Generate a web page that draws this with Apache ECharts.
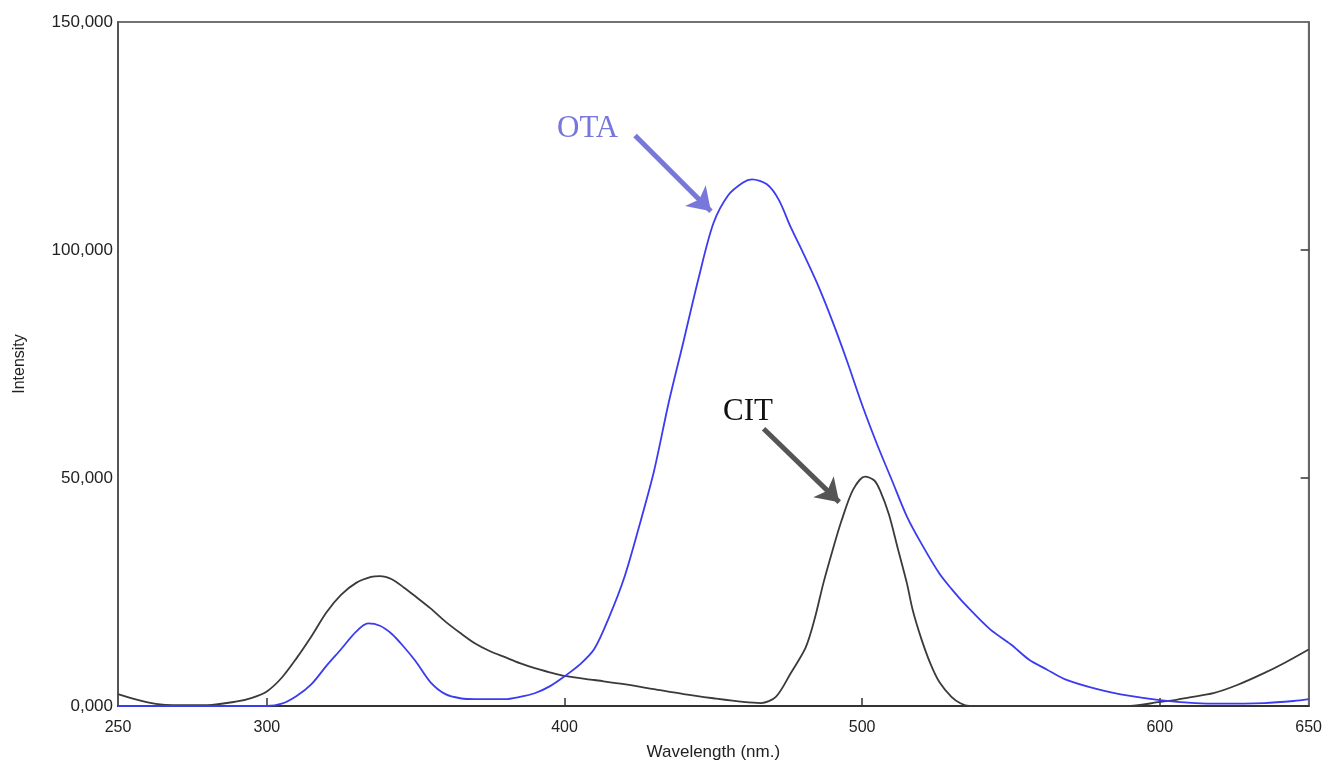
<!DOCTYPE html>
<html>
<head>
<meta charset="utf-8">
<script src="https://cdn.jsdelivr.net/npm/echarts@6/dist/echarts.min.js"></script>
<style>
  html, body { margin: 0; padding: 0; background: #fff; }
  #chart { width: 1325px; height: 766px; }
</style>
</head>
<body>
<div id="chart"></div>
<script>
// OTA emission spectrum (blue)
var otaWl  = [250, 270, 290, 300, 305, 310, 315, 320, 325, 330, 334, 338, 342, 346, 350, 355, 360, 365, 370, 380, 385, 390, 395, 400, 405, 410, 415, 420, 425, 430, 435, 440, 445, 450, 455, 460, 463, 468, 472, 476, 480, 485, 490, 495, 500, 505, 510, 515, 520, 526, 530, 535, 543, 550, 556, 562, 568, 579, 590, 600, 612, 620, 635, 645, 650];
var otaVal = [0, 0, 0, 0, 500, 2200, 4800, 8800, 12500, 16300, 18100, 17600, 15800, 13000, 9800, 5200, 2600, 1700, 1500, 1500, 2000, 2800, 4300, 6500, 9000, 12500, 19500, 28000, 39200, 51300, 66500, 80000, 93700, 105800, 112000, 114800, 115500, 114400, 111000, 105000, 99600, 92500, 84400, 75500, 66000, 57400, 49500, 41600, 35500, 29000, 25700, 22000, 16800, 13500, 10200, 8000, 5900, 3700, 2200, 1300, 650, 500, 650, 1100, 1500];

// CIT emission spectrum (black)
var citWl  = [250, 255, 260, 265, 270, 280, 290, 295, 300, 305, 310, 315, 320, 325, 330, 335, 338, 342, 346, 350, 355, 360, 365, 370, 375, 380, 385, 390, 395, 400, 410, 420, 430, 440, 450, 460, 466, 471, 476, 481, 484, 487, 490, 493, 497, 501, 504, 506, 509, 512, 515, 517, 520, 523, 526, 530, 533, 536, 540, 590, 600, 605, 610, 618, 626, 635, 642, 650];
var citVal = [2600, 1600, 800, 300, 200, 200, 1000, 1800, 3200, 6200, 10500, 15300, 20500, 24400, 27000, 28300, 28500, 27800, 26000, 24000, 21400, 18500, 16000, 13700, 12000, 10700, 9400, 8300, 7400, 6600, 5700, 4800, 3700, 2600, 1700, 900, 650, 2000, 7200, 12800, 19000, 27000, 34000, 40500, 47500, 50300, 49500, 47300, 42000, 34500, 27000, 21000, 14500, 9200, 5200, 2000, 600, 0, 0, 0, 900, 1300, 1900, 2800, 4600, 7200, 9500, 12400];

var xLabels = [250, 300, 400, 500, 600, 650];
var xTicks = [300, 400, 500, 600];
var yTicks = [50000, 100000];

function pairs(xs, ys) {
  return xs.map(function (x, i) { return [x, ys[i]]; });
}

var myChart = echarts.init(document.getElementById('chart'));

var option = {
  animation: false,
  backgroundColor: '#fff',
  grid: {
    left: 118, right: 13, top: 22, bottom: 54,
    show: true,
    borderColor: '#444',
    borderWidth: 1.5
  },
  xAxis: {
    type: 'value',
    min: 250, max: 650,
    name: 'Wavelength (nm.)',
    nameLocation: 'middle',
    nameGap: 38,
    nameTextStyle: { fontFamily: 'Liberation Sans', fontSize: 17, color: '#222' },
    axisLine: { show: true, lineStyle: { color: '#333', width: 2 } },
    axisTick: { show: true, inside: true, length: 8, customValues: xTicks, lineStyle: { color: '#333', width: 1.5 } },
    axisLabel: { customValues: xLabels, margin: 14, fontFamily: 'Liberation Sans', fontSize: 16, color: '#222' },
    splitLine: { show: false }
  },
  yAxis: [{
    type: 'value',
    min: 0, max: 150000, interval: 50000,
    name: 'Intensity',
    nameLocation: 'middle',
    nameGap: 90,
    nameTextStyle: { fontFamily: 'Liberation Sans', fontSize: 16, color: '#222' },
    axisLine: { show: true, lineStyle: { color: '#555', width: 2 } },
    axisTick: { show: false },
    axisLabel: {
      margin: 5,
      fontFamily: 'Liberation Sans', fontSize: 17, color: '#222',
      formatter: function (v) { return v === 0 ? '0,000' : v.toLocaleString('en-US'); }
    },
    splitLine: { show: false }
  }, {
    type: 'value',
    position: 'right',
    min: 0, max: 150000, interval: 50000,
    axisLine: { show: true, lineStyle: { color: '#666', width: 2 } },
    axisTick: { show: true, inside: true, length: 8, customValues: yTicks, lineStyle: { color: '#333', width: 1.5 } },
    axisLabel: { show: false },
    splitLine: { show: false }
  }],
  series: [
    {
      name: 'CIT',
      type: 'line',
      data: pairs(citWl, citVal),
      symbol: 'none',
      smooth: 0.3,
      lineStyle: { color: '#3a3a3a', width: 1.8 },
      markLine: {
        silent: true,
        symbol: ['none', 'arrow'],
        symbolSize: 22,
        label: { show: false },
        lineStyle: { color: '#555', width: 5, type: 'solid' },
        data: [[{ coord: [466.9, 60800] }, { coord: [492.3, 44700] }]]
      }
    },
    {
      name: 'OTA',
      type: 'line',
      data: pairs(otaWl, otaVal),
      symbol: 'none',
      smooth: 0.3,
      lineStyle: { color: '#3b3bf0', width: 1.8 },
      markLine: {
        silent: true,
        symbol: ['none', 'arrow'],
        symbolSize: 22,
        label: { show: false },
        lineStyle: { color: '#7878dc', width: 5, type: 'solid' },
        data: [[{ coord: [423.7, 125100] }, { coord: [449.2, 108500] }]]
      }
    }
  ],
  graphic: [
    {
      type: 'text', left: 557, top: 113,
      style: { text: 'OTA', font: '31px "Liberation Serif"', fill: '#7676dc' }
    },
    {
      type: 'text', left: 723, top: 396,
      style: { text: 'CIT', font: '31px "Liberation Serif"', fill: '#111' }
    }
  ]
};

myChart.setOption(option);
</script>
</body>
</html>
